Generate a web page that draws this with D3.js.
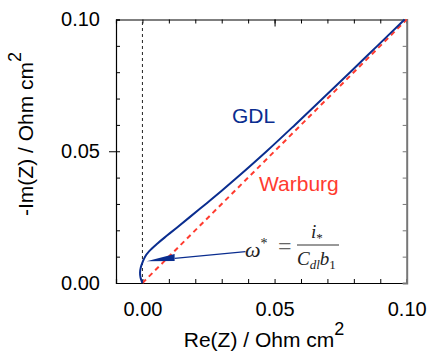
<!DOCTYPE html>
<html>
<head>
<meta charset="utf-8">
<script src="https://cdnjs.cloudflare.com/ajax/libs/d3/7.8.5/d3.min.js"></script>
<style>
  body { margin: 0; background: #fff; }
  svg { display: block; font-family: "Liberation Sans", Arial, sans-serif; }
</style>
</head>
<body>
<svg id="chart" width="429" height="351"></svg>
<script>
// GDL impedance curve
const gdlRe = [0, -0.0007, -0.0009, -0.0006, 0.0001, 0.0010, 0.0025, 0.0057, 0.0093, 0.0130, 0.0179, 0.0240, 0.0300, 0.0358, 0.0470, 0.0577, 0.0682, 0.0786, 0.0889, 0.0992];
const gdlIm = [0, 0.002, 0.004, 0.006, 0.008, 0.010, 0.012, 0.015, 0.018, 0.021, 0.025, 0.030, 0.035, 0.040, 0.050, 0.060, 0.070, 0.080, 0.090, 0.100];

// Warburg 45 degree line
const warburgRe = [0, 0.1];
const warburgIm = [0, 0.1];

const majorTicks = [0.00, 0.05, 0.10];
const minorTicks = [0.00, 0.01, 0.02, 0.03, 0.04, 0.05, 0.06, 0.07, 0.08, 0.09, 0.10];

// arrow of the omega* annotation (tip, tail)
const arrowRe = [0.0016, 0.039];
const arrowIm = [0.0083, 0.0119];

const width = 429, height = 351;
const margin = { top: 19.5, right: 22.3, bottom: 68, left: 116 };

const svg = d3.select('#chart');

const x = d3.scaleLinear()
  .domain([-0.01, 0.10])
  .range([margin.left, width - margin.right]);

const y = d3.scaleLinear()
  .domain([0, 0.10])
  .range([height - margin.bottom, margin.top]);

const fmt = d3.format('.2f');

// minor ticks, pointing inward
svg.append('g')
  .attr('transform', `translate(0, ${y(0)})`)
  .call(d3.axisBottom(x).tickValues(minorTicks).tickSize(-4).tickFormat(''));
svg.append('g')
  .attr('transform', `translate(0, ${y(0.1)})`)
  .call(d3.axisTop(x).tickValues(minorTicks).tickSize(-4).tickFormat(''));
svg.append('g')
  .attr('transform', `translate(${x(-0.01)}, 0)`)
  .call(d3.axisLeft(y).tickValues(minorTicks).tickSize(-4).tickFormat(''));
svg.append('g')
  .attr('class', 'right')
  .attr('transform', `translate(${x(0.1)}, 0)`)
  .call(d3.axisRight(y).tickValues(minorTicks).tickSize(-4).tickFormat(''));

// longer mid ticks
svg.append('g')
  .attr('transform', `translate(0, ${y(0.1)})`)
  .call(d3.axisTop(x).tickValues([0.05]).tickSize(-7).tickFormat(''))
  .select('.domain').remove();
svg.append('g')
  .attr('transform', `translate(${x(-0.01)}, 0)`)
  .call(d3.axisLeft(y).tickValues([0.05]).tickSize(7).tickFormat(''))
  .select('.domain').remove();

// tick labels
const xLab = svg.append('g')
  .attr('transform', `translate(0, ${y(0)})`)
  .call(d3.axisBottom(x).tickValues(majorTicks).tickSize(0).tickPadding(19).tickFormat(fmt));
xLab.select('.domain').remove();
xLab.selectAll('text').style('font-size', '20px').attr('fill', '#000');

const yLab = svg.append('g')
  .attr('transform', `translate(${x(-0.01)}, 0)`)
  .call(d3.axisLeft(y).tickValues(majorTicks).tickSize(0).tickPadding(16).tickFormat(fmt));
yLab.select('.domain').remove();
yLab.selectAll('text').style('font-size', '20px').attr('fill', '#000');

svg.selectAll('.domain').attr('stroke', '#000').attr('stroke-width', 1.2);
svg.selectAll('.tick line').attr('stroke', '#000');
svg.select('.right .domain').attr('stroke', '#777').attr('stroke-width', 2);
svg.selectAll('.right .tick line').attr('stroke', '#777');

// zero line
svg.append('line')
  .attr('x1', x(0)).attr('x2', x(0))
  .attr('y1', y(0)).attr('y2', y(0.1))
  .attr('stroke', '#222')
  .attr('stroke-width', 1)
  .attr('stroke-dasharray', '3,3');

const line = d3.line()
  .x(d => x(d[0]))
  .y(d => y(d[1]));

// Warburg
svg.append('path')
  .datum(d3.zip(warburgRe, warburgIm))
  .attr('d', line)
  .attr('fill', 'none')
  .attr('stroke', '#ff3b2f')
  .attr('stroke-width', 2)
  .attr('stroke-dasharray', '5,4');

// GDL
svg.append('path')
  .datum(d3.zip(gdlRe, gdlIm))
  .attr('d', line.curve(d3.curveCatmullRom))
  .attr('fill', 'none')
  .attr('stroke', '#0a2d8f')
  .attr('stroke-width', 2);

// labels
svg.append('text')
  .attr('x', 232).attr('y', 123)
  .attr('fill', '#0a2d8f')
  .style('font-size', '21px')
  .text('GDL');

svg.append('text')
  .attr('x', 259).attr('y', 191)
  .attr('fill', '#ff3b2f')
  .style('font-size', '21px')
  .text('Warburg');

// omega* annotation: arrow
const tipX = x(arrowRe[0]), tipY = y(arrowIm[0]);
const tailX = x(arrowRe[1]), tailY = y(arrowIm[1]);
const baseX = tipX + 28;
const baseY = tipY + (tailY - tipY) * (28 / (tailX - tipX));
svg.append('line')
  .attr('x1', baseX).attr('y1', baseY)
  .attr('x2', tailX).attr('y2', tailY)
  .attr('stroke', '#0a2d8f')
  .attr('stroke-width', 1.2);
svg.append('path')
  .attr('d', `M${tipX},${tipY} L${baseX},${baseY - 4.5} L${baseX},${baseY + 2.5} Z`)
  .attr('fill', '#0a2d8f');

// formula
const eq = svg.append('g')
  .style('font-family', '"Liberation Serif", "Times New Roman", serif')
  .attr('fill', '#222');
eq.append('text').attr('x', 245).attr('y', 257).style('font-size', '22px').style('font-style', 'italic')
  .text('ω').append('tspan').attr('dy', -9).style('font-size', '14px').style('font-style', 'normal').text('*');
eq.append('text').attr('x', 278).attr('y', 254).style('font-size', '24px').attr('fill', '#666').text('=');
eq.append('line')
  .attr('x1', 297).attr('x2', 339).attr('y1', 245).attr('y2', 245)
  .attr('stroke', '#333').attr('stroke-width', 1);
eq.append('text').attr('x', 311).attr('y', 238).style('font-size', '19px').style('font-style', 'italic')
  .text('i').append('tspan').attr('dy', 4).style('font-size', '13px').style('font-style', 'normal').text('*');
const den = eq.append('text').attr('x', 297).attr('y', 265).style('font-size', '19px').style('font-style', 'italic');
den.append('tspan').text('C');
den.append('tspan').attr('dy', 4).style('font-size', '13px').text('dl');
den.append('tspan').attr('dy', -4).text('b');
den.append('tspan').attr('dy', 4).style('font-size', '13px').style('font-style', 'normal').text('1');

// axis titles
const xt = svg.append('text')
  .attr('x', 264).attr('y', 347)
  .attr('text-anchor', 'middle')
  .style('font-size', '21px')
  .text('Re(Z) / Ohm cm');
xt.append('tspan').attr('dy', -12).style('font-size', '18px').text('2');

const yt = svg.append('text')
  .attr('transform', 'translate(33, 134) rotate(-90)')
  .attr('text-anchor', 'middle')
  .style('font-size', '21px')
  .text('-Im(Z) / Ohm cm');
yt.append('tspan').attr('dy', -12).style('font-size', '18px').text('2');
</script>
</body>
</html>
